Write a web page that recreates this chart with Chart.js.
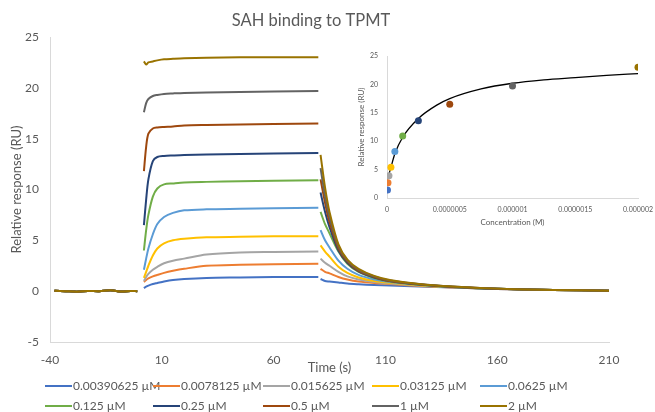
<!DOCTYPE html>
<html>
<head>
    <title>SAH binding to TPMT</title>
    <style type="text/css">
        body { margin: 0; background: #fff; }
        #wrap { position: relative; width: 655px; height: 412px; }
        #mainCanvas { position: absolute; left: 0; top: 0; }
        #insetCanvas { position: absolute; left: 345px; top: 45px; }
    </style>
    <script type="text/javascript" src="https://cdn.jsdelivr.net/npm/chart.js@4/dist/chart.umd.min.js"></script>
</head>
<body>

<div id="wrap">
    <canvas id="mainCanvas" width="655" height="412"></canvas>
    <canvas id="insetCanvas" width="310" height="185"></canvas>
</div>

<script>
    // series labels and colours (Excel palette)
    var concLabels = ['0.00390625 µM', '0.0078125 µM', '0.015625 µM', '0.03125 µM', '0.0625 µM',
        '0.125 µM', '0.25 µM', '0.5 µM', '1 µM', '2 µM'];
    var concM = [3.90625e-9, 7.8125e-9, 1.5625e-8, 3.125e-8, 6.25e-8, 1.25e-7, 2.5e-7, 5e-7, 1e-6, 2e-6];
    var colors = ['#4472C4', '#ED7D31', '#A5A5A5', '#FFC000', '#5B9BD5',
        '#70AD47', '#264478', '#9E480E', '#636363', '#997300'];

    // sensorgram time points (s)
    var baseTime = [-38, -33, -28, -23, -18, -13, -8, -4, -1];
    var assocTime = [2, 3, 4, 6, 8, 11, 15, 20, 30, 45, 60, 80];
    var dissocTime = [81, 83, 85, 89, 93, 98, 105, 112, 125, 140, 160, 185, 210];

    // baseline before injection (all series overlap)
    var baseline = [0.05, 0.0, -0.05, 0.02, 0.0, 0.08, -0.03, 0.02, 0.0];

    // association phase response (RU), one array per concentration
    var assoc = [
        [0.3, 0.45, 0.55, 0.7, 0.8, 0.95, 1.1, 1.2, 1.3, 1.35, 1.4, 1.4],
        [0.9, 1.1, 1.25, 1.45, 1.6, 1.8, 2.0, 2.2, 2.5, 2.6, 2.65, 2.7],
        [1.0, 1.4, 1.7, 2.1, 2.4, 2.75, 3.0, 3.2, 3.6, 3.8, 3.85, 3.9],
        [1.3, 1.9, 2.5, 3.5, 4.2, 4.7, 5.0, 5.15, 5.3, 5.35, 5.4, 5.4],
        [2.1, 3.2, 4.2, 5.6, 6.6, 7.3, 7.7, 7.95, 8.05, 8.1, 8.15, 8.2],
        [4.0, 6.0, 7.5, 9.3, 10.1, 10.5, 10.6, 10.7, 10.75, 10.8, 10.85, 10.9],
        [6.5, 9.0, 11.0, 12.8, 13.2, 13.3, 13.35, 13.4, 13.45, 13.5, 13.55, 13.6],
        [11.8, 14.2, 15.5, 16.0, 16.1, 16.15, 16.2, 16.3, 16.35, 16.4, 16.45, 16.5],
        [17.6, 18.5, 18.9, 19.2, 19.3, 19.4, 19.45, 19.5, 19.55, 19.6, 19.65, 19.7],
        [22.6, 22.3, 22.5, 22.6, 22.7, 22.8, 22.85, 22.9, 22.95, 23.0, 23.0, 23.0]
    ];

    // dissociation phase response (RU)
    var dissoc = [
        [1.2, 1.0, 0.95, 0.85, 0.75, 0.68, 0.6, 0.55, 0.47, 0.35, 0.21, 0.12, 0.05],
        [2.2, 1.9, 1.75, 1.4, 1.15, 0.95, 0.8, 0.7, 0.52, 0.37, 0.22, 0.12, 0.05],
        [3.2, 2.8, 2.5, 1.9, 1.45, 1.15, 0.9, 0.75, 0.55, 0.38, 0.22, 0.12, 0.05],
        [4.5, 3.9, 3.4, 2.4, 1.8, 1.35, 1.0, 0.82, 0.58, 0.40, 0.23, 0.12, 0.05],
        [6.0, 5.0, 4.3, 3.0, 2.2, 1.6, 1.15, 0.9, 0.62, 0.41, 0.23, 0.12, 0.05],
        [7.8, 6.6, 5.7, 3.9, 2.7, 1.9, 1.3, 0.95, 0.64, 0.42, 0.23, 0.12, 0.05],
        [9.7, 7.8, 6.3, 4.0, 2.8, 1.95, 1.35, 1.0, 0.66, 0.42, 0.24, 0.12, 0.05],
        [11.0, 8.7, 6.8, 4.2, 2.9, 2.0, 1.4, 1.0, 0.68, 0.43, 0.24, 0.12, 0.05],
        [12.1, 9.4, 7.3, 4.4, 3.0, 2.1, 1.45, 1.05, 0.7, 0.45, 0.25, 0.12, 0.05],
        [13.4, 10.2, 7.8, 4.6, 3.1, 2.2, 1.5, 1.1, 0.7, 0.45, 0.25, 0.12, 0.05]
    ];

    // inset: steady-state response vs concentration, and fitted curve
    var plateau = [1.4, 2.7, 3.9, 5.4, 8.2, 10.9, 13.6, 16.5, 19.7, 23.0];
    var fitConcM = [3.9e-9, 1.56e-8, 3.125e-8, 6.25e-8, 1.25e-7, 2.5e-7, 4e-7, 5e-7, 7.5e-7, 1e-6, 1.25e-6, 1.5e-6, 1.75e-6, 2e-6];
    var fitResp = [3.3, 4.2, 5.4, 7.8, 10.7, 14.0, 16.4, 17.5, 19.2, 20.2, 20.8, 21.2, 21.6, 21.9];

    var textColor = '#595959';
    var axisColor = '#d9d9d9';
    var fontFamily = 'Lato, "Open Sans", sans-serif';

    function buildPoints(i) {
        var pts = [];
        baseTime.forEach(function (t, k) { pts.push({x: t, y: baseline[k]}); });
        pts.push({x: 0.5, y: null});
        assocTime.forEach(function (t, k) { pts.push({x: t, y: assoc[i][k]}); });
        pts.push({x: 80.5, y: null});
        dissocTime.forEach(function (t, k) { pts.push({x: t, y: dissoc[i][k]}); });
        return pts;
    }

    var datasets = [];
    for (var i = 0; i < concLabels.length; i++) {
        datasets.push({
            label: concLabels[i],
            data: buildPoints(i),
            borderColor: colors[i],
            backgroundColor: colors[i],
            borderWidth: 2,
            pointRadius: 0,
            tension: 0.3,
            spanGaps: false,
            order: concLabels.length - i
        });
    }

    // title and legend drawn by hand so they sit where Excel put them
    var excelBits = {
        id: 'excelBits',
        afterDraw: function (chart) {
            var ctx = chart.ctx;
            var colX = [45, 153, 263, 372, 480];
            var rowY = [386, 406];
            ctx.save();
            ctx.fillStyle = textColor;
            ctx.textAlign = 'center';
            ctx.textBaseline = 'middle';
            ctx.font = '16.5px ' + fontFamily;
            ctx.fillText('SAH binding to TPMT', 311, 21);

            ctx.font = '12px ' + fontFamily;
            ctx.textAlign = 'left';
            chart.data.datasets.forEach(function (ds, k) {
                var x = colX[k % 5];
                var y = rowY[Math.floor(k / 5)];
                ctx.strokeStyle = ds.borderColor;
                ctx.lineWidth = 2;
                ctx.beginPath();
                ctx.moveTo(x, y);
                ctx.lineTo(x + 27, y);
                ctx.stroke();
                ctx.fillStyle = textColor;
                ctx.fillText(ds.label, x + 28, y);
            });
            ctx.restore();
        }
    };

    new Chart(document.getElementById('mainCanvas'), {
        type: 'line',
        data: {datasets: datasets},
        plugins: [excelBits],
        options: {
            responsive: false,
            animation: false,
            layout: {padding: {left: 0, right: 46, top: 37, bottom: 36}},
            plugins: {
                legend: {display: false},
                tooltip: {enabled: false},
                title: {display: false}
            },
            scales: {
                x: {
                    type: 'linear',
                    min: -40,
                    max: 210,
                    grid: {display: false},
                    border: {display: true, color: axisColor, width: 1},
                    ticks: {stepSize: 50, color: textColor, font: {family: fontFamily, size: 12}, padding: 3},
                    title: {
                        display: true, text: 'Time (s)', color: textColor,
                        font: {family: fontFamily, size: 13}, padding: {top: -4, bottom: 0}
                    },
                    afterFit: function (s) { s.height = 34; }
                },
                y: {
                    min: -5,
                    max: 25,
                    grid: {display: false},
                    border: {display: true, color: axisColor, width: 1},
                    ticks: {stepSize: 5, color: textColor, font: {family: fontFamily, size: 12}, padding: 3},
                    title: {
                        display: true, text: 'Relative response (RU)', color: textColor,
                        font: {family: fontFamily, size: 13}, padding: {top: 9, bottom: 0}
                    },
                    afterFit: function (s) { s.width = 50; }
                }
            }
        }
    });

    // inset scatter + fitted curve
    var insetPoints = concM.map(function (c, k) { return {x: c, y: plateau[k]}; });
    var fitPoints = fitConcM.map(function (c, k) { return {x: c, y: fitResp[k]}; });

    new Chart(document.getElementById('insetCanvas'), {
        type: 'scatter',
        data: {
            datasets: [
                {
                    label: 'fit',
                    data: fitPoints,
                    showLine: true,
                    borderColor: '#000000',
                    borderWidth: 1.3,
                    pointRadius: 0,
                    cubicInterpolationMode: 'monotone',
                    order: 2
                },
                {
                    label: 'Response',
                    data: insetPoints,
                    pointRadius: 3.5,
                    pointBorderWidth: 0,
                    pointBackgroundColor: colors,
                    order: 1
                }
            ]
        },
        options: {
            responsive: false,
            animation: false,
            layout: {padding: {left: 0, right: 17, top: 11, bottom: 0}},
            plugins: {legend: {display: false}, tooltip: {enabled: false}},
            scales: {
                x: {
                    type: 'linear',
                    min: 0,
                    max: 0.000002,
                    grid: {display: false},
                    border: {display: true, color: axisColor, width: 1},
                    ticks: {
                        stepSize: 0.0000005, color: textColor, font: {family: fontFamily, size: 7}, padding: 0,
                        callback: function (v) { return v === 0 ? '0' : Number(v).toFixed(7).replace(/0+$/, ''); }
                    },
                    title: {
                        display: true, text: 'Concentration (M)', color: textColor,
                        font: {family: fontFamily, size: 8}, padding: {top: 0, bottom: 3}
                    },
                    afterFit: function (s) { s.height = 32; }
                },
                y: {
                    min: 0,
                    max: 25,
                    grid: {display: false},
                    border: {display: true, color: axisColor, width: 1},
                    ticks: {stepSize: 5, color: textColor, font: {family: fontFamily, size: 7}, padding: 1},
                    title: {
                        display: true, text: 'Relative response (RU)', color: textColor,
                        font: {family: fontFamily, size: 8}, padding: {top: 12, bottom: 0}
                    },
                    afterFit: function (s) { s.width = 42; }
                }
            }
        }
    });
</script>

</body>
</html>
